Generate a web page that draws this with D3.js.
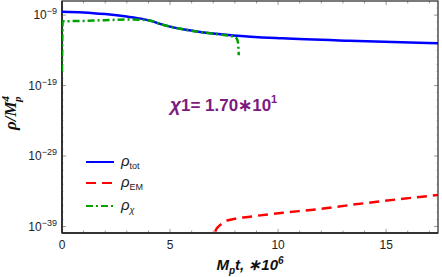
<!DOCTYPE html>
<html><head><meta charset="utf-8">
<script src="https://cdn.jsdelivr.net/npm/d3@7"></script>
<style>body{margin:0;background:#fff}svg{display:block}</style>
</head><body>
<script>
const tTot = [0, 1, 2, 3, 3.5, 4.07, 4.54, 5.0, 5.6, 6.39, 7.92, 10.2, 13.3, 17.4];
const rhoTot = [2.95e-9, 2.4e-9, 1.38e-9, 6.2e-10, 3.7e-10, 1.66e-10, 5.6e-11, 2.3e-11, 9.5e-12, 3.9e-12, 1.3e-12, 5e-13, 2.2e-13, 1e-13];
const tChi = [0, 0.03, 1, 2, 3, 3.6, 4.07, 4.54, 5.0, 5.6, 6.39, 7.5, 8.0, 8.1, 8.15, 8.17, 8.18];
const rhoChi = [1e-17, 1.26e-10, 1.51e-10, 1.9e-10, 2.34e-10, 2.19e-10, 1.66e-10, 5.6e-11, 2.3e-11, 9.5e-12, 3.9e-12, 1.45e-12, 7.6e-13, 4e-13, 1e-13, 1e-14, 2e-15];
const tEM = [7.06, 7.09, 7.15, 7.23, 7.4, 7.62, 8.0, 8.7, 10.23, 11.79, 13.33, 14.57, 17.4];
const rhoEM = [1e-42, 1.8e-40, 4.5e-40, 9.3e-40, 2.5e-39, 6.6e-39, 1.26e-38, 2.5e-38, 9.1e-38, 2.75e-37, 1.12e-36, 3.3e-36, 2.95e-35];
const xTicks = [0, 5, 10, 15];
const yTickExp = [-9, -19, -29, -39];
const legendLabels = [["tot","#0000ff",null],["EM","#ff0000","10,6"],["χ","#00a000","7,3,2,3"]];

const W = 442, H = 277;
const L = 62, R = 438, T = 1, B = 233;
const svg = d3.select("body").append("svg").attr("width", W).attr("height", H);
const x = d3.scaleLinear().domain([0, 17.4]).range([L, R]);
const y = d3.scaleLog().domain([Math.pow(10, -39.92), Math.pow(10, -7.0)]).range([B, T]);

svg.append("clipPath").attr("id","clip").append("rect").attr("x",L).attr("y",T).attr("width",R-L).attr("height",B-T);

const g = svg.append("g");
d3.range(0, 17.5, 1).forEach(v => {
  const len = (v % 5 === 0) ? 4 : 2.5;
  g.append("line").attr("x1", x(v)).attr("x2", x(v)).attr("y1", B).attr("y2", B - len).attr("stroke", "#999").attr("stroke-width", 1);
  g.append("line").attr("x1", x(v)).attr("x2", x(v)).attr("y1", T).attr("y2", T + len).attr("stroke", "#999").attr("stroke-width", 1);
});
d3.range(-39, -7, 1).forEach(e => {
  const major = yTickExp.includes(e);
  const len = major ? 4 : 2;
  const yy = y(Math.pow(10, e));
  g.append("line").attr("x1", L).attr("x2", L + len).attr("y1", yy).attr("y2", yy).attr("stroke", major ? "#999" : "#ddd").attr("stroke-width", 1);
  g.append("line").attr("x1", R).attr("x2", R - len).attr("y1", yy).attr("y2", yy).attr("stroke", major ? "#999" : "#ddd").attr("stroke-width", 1);
});

svg.append("rect").attr("x", L).attr("y", T).attr("width", R - L).attr("height", B - T)
  .attr("fill", "none").attr("stroke", "#333").attr("stroke-width", 1.3);
svg.append("line").attr("x1", L).attr("x2", R).attr("y1", B).attr("y2", B).attr("stroke", "#333").attr("stroke-width", 2);
svg.append("line").attr("x1", L).attr("x2", L).attr("y1", T).attr("y2", B).attr("stroke", "#333").attr("stroke-width", 2);

xTicks.forEach(v => {
  svg.append("text").attr("x", x(v)).attr("y", 249).attr("text-anchor", "middle")
    .attr("font-family", "Liberation Sans, Arial, sans-serif").attr("font-size", 12).attr("fill", "#222").text(v);
});
yTickExp.forEach(e => {
  const t = svg.append("text").attr("x", 57).attr("y", y(Math.pow(10, e)) + 4).attr("text-anchor", "end")
    .attr("font-family", "Liberation Sans, Arial, sans-serif").attr("font-size", 12).attr("fill", "#222");
  t.append("tspan").text("10");
  t.append("tspan").attr("font-size", 9).attr("dy", -5).text("−" + Math.abs(e));
});

const line = d3.line().x(d => x(d[0])).y(d => y(d[1])).curve(d3.curveMonotoneX);
const plot = svg.append("g").attr("clip-path", "url(#clip)");
plot.append("path").datum(tTot.map((t, i) => [t, rhoTot[i]])).attr("d", line)
  .attr("fill", "none").attr("stroke", "#0000ff").attr("stroke-width", 2.5);
plot.append("path").datum(tEM.map((t, i) => [t, rhoEM[i]])).attr("d", line)
  .attr("fill", "none").attr("stroke", "#ff0000").attr("stroke-width", 2.5).attr("stroke-dasharray", "10,6");
plot.append("path").datum(tChi.map((t, i) => [t, rhoChi[i]])).attr("d", line)
  .attr("fill", "none").attr("stroke", "#00a000").attr("stroke-width", 2.5).attr("stroke-dasharray", "7,3,2,3");

legendLabels.forEach((d, i) => {
  const yy = [162, 183, 206][i];
  svg.append("line").attr("x1", 86).attr("x2", 114).attr("y1", yy).attr("y2", yy)
    .attr("stroke", d[1]).attr("stroke-width", 2).attr("stroke-dasharray", d[2]);
  const t = svg.append("text").attr("x", 121).attr("y", yy + 4).attr("font-family", "Liberation Sans, Arial, sans-serif").attr("fill", "#222");
  t.append("tspan").attr("font-size", 15).attr("font-style", "italic").text("ρ");
  t.append("tspan").attr("font-size", 9).attr("dy", 3).attr("font-style", d[0] === "χ" ? "italic" : "normal").text(d[0]);
});

const ann = svg.append("text").attr("x", 170).attr("y", 111).attr("fill", "#7d1a80")
  .attr("font-family", "Liberation Sans, Arial, sans-serif").attr("font-weight", "bold").attr("font-size", 17);
ann.append("tspan").attr("font-style", "italic").attr("font-size", 19).text("χ");
ann.append("tspan").text("1= 1.70∗10");
ann.append("tspan").attr("font-size", 11).attr("dy", -8).text("1");

const xl = svg.append("text").attr("x", 250).attr("y", 270).attr("text-anchor", "middle")
  .attr("font-family", "Liberation Sans, Arial, sans-serif").attr("font-weight", "bold").attr("font-style", "italic").attr("font-size", 15).attr("fill", "#111");
xl.append("tspan").text("M");
xl.append("tspan").attr("font-size", 10).attr("dy", 4).text("p");
xl.append("tspan").attr("dy", -4).text("t, ∗10");
xl.append("tspan").attr("font-size", 10).attr("dy", -6).text("6");

const yl = svg.append("text").attr("transform", "translate(16,113) rotate(-90)").attr("text-anchor", "middle")
  .attr("font-family", "Liberation Serif, Times New Roman, serif").attr("font-weight", "bold").attr("font-style", "italic").attr("font-size", 17).attr("fill", "#111");
yl.append("tspan").text("ρ/M");
yl.append("tspan").attr("font-size", 11).attr("dy", -7).text("4");
yl.append("tspan").attr("font-size", 11).attr("dx", -6).attr("dy", 12).text("p");
</script>
</body></html>
